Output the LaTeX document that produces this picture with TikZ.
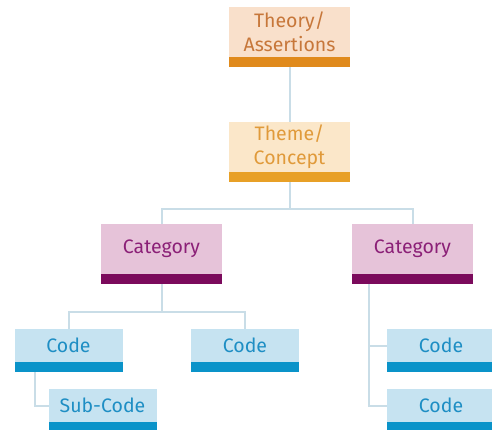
\documentclass[tikz,border=0pt]{standalone}
\usepackage{fontspec}
\setmainfont{Fira Sans}
\definecolor{thfill}{HTML}{F9E0CB}
\definecolor{thbar}{HTML}{E08A1C}
\definecolor{thtext}{HTML}{C7773A}
\definecolor{tmfill}{HTML}{FBE7C9}
\definecolor{tmbar}{HTML}{E8A026}
\definecolor{tmtext}{HTML}{E09A3A}
\definecolor{cafill}{HTML}{E6C3D9}
\definecolor{cabar}{HTML}{7B0A5C}
\definecolor{catext}{HTML}{8B2077}
\definecolor{cofill}{HTML}{C6E3F1}
\definecolor{cobar}{HTML}{0A93C9}
\definecolor{cotext}{HTML}{1E8EC4}
\definecolor{conn}{HTML}{C9DDE7}
\tikzset{
  box/.style={rectangle, inner sep=0pt, outer sep=0pt, align=center,
    font=\fontsize{19.5}{24}\selectfont},
  bigbox/.style={box, minimum width=121pt, minimum height=50pt},
  smallbox/.style={box, minimum width=108pt, minimum height=33pt},
  theory/.style={bigbox, fill=thfill, text=thtext},
  theme/.style={bigbox, fill=tmfill, text=tmtext},
  cat/.style={bigbox, fill=cafill, text=catext},
  code/.style={smallbox, fill=cofill, text=cotext},
  link/.style={draw=conn, line width=2pt},
}
\begin{document}
\begin{tikzpicture}[x=1pt,y=-1pt]
\useasboundingbox (0,0) rectangle (492,429);
% nodes
\node[theory] (th) at (289.5,32) {Theory/\\Assertions};
\node[theme] (tm) at (289.5,147) {Theme/\\Concept};
\node[cat] (c1) at (161.5,249) {Category};
\node[cat] (c2) at (412.5,249) {Category};
\node[code] (k1) at (68.5,345.5) {Code};
\node[code] (k2) at (245,345.5) {Code};
\node[code] (k3) at (441,345.5) {Code};
\node[code] (k4) at (441,405.5) {Code};
\node[code] (sb) at (102.5,405.5) {Sub-Code};
% bars
\foreach \n/\c in {th/thbar, tm/tmbar, c1/cabar, c2/cabar, k1/cobar, k2/cobar, k3/cobar, k4/cobar, sb/cobar}
  \fill[\c] (\n.south west) rectangle ([yshift=-10pt]\n.south east);
% coordinates
\coordinate (thb) at ([yshift=-10pt]th.south);
\coordinate (tmb) at ([yshift=-10pt]tm.south);
\coordinate (c1b) at ([yshift=-10pt]c1.south);
\coordinate (k1b) at ([yshift=-10pt]k1.south);
\coordinate (c2b) at ([yshift=-10pt]c2.south);
% connectors
\draw[link] (thb) -- (tm.north);
\draw[link] (tmb) -- (289.5,209);
\draw[link] (c1.north) |- (289.5,209) -| (c2.north);
\draw[link] (c1b) -- (161.5,312);
\draw[link] (k1.north) |- (161.5,312) -| (k2.north);
\draw[link] (k1b -| 35,0) |- (sb.west);
\draw[link] (c2b -| 369,0) |- (k4.west);
\draw[link] (369,345.5) -- (k3.west);
\end{tikzpicture}
\end{document}
